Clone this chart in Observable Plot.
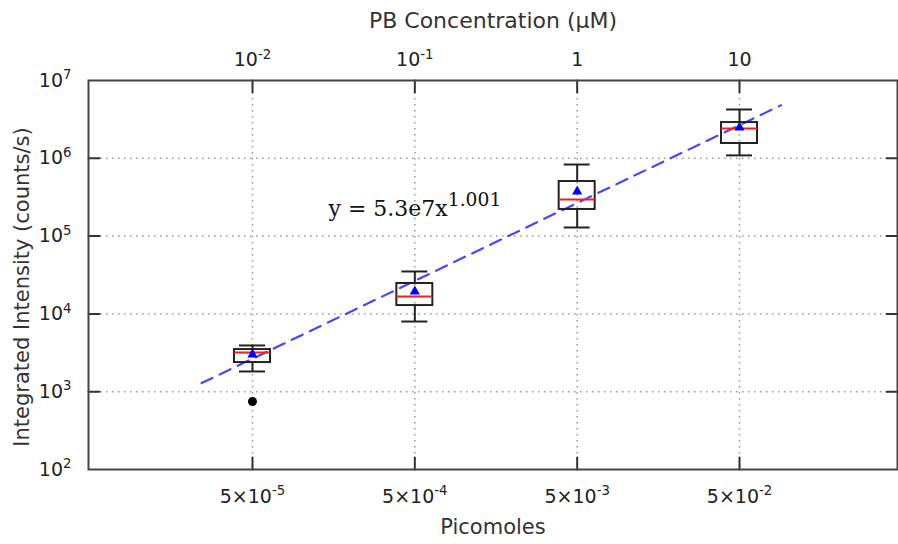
<!DOCTYPE html>
<html>
<head>
<meta charset="utf-8">
<script src="https://cdn.jsdelivr.net/npm/d3@7"></script>
<script src="https://cdn.jsdelivr.net/npm/@observablehq/plot@0.6"></script>
<style>
  html, body { margin: 0; padding: 0; background: #fff; }
  #chart svg { display: block; }
</style>
</head>
<body>
<div id="chart"></div>
<script>
// ---- data ----
const picomoles = [5e-5, 5e-4, 5e-3, 5e-2];
const bottomLabels = ["5×10^-5", "5×10^-4", "5×10^-3", "5×10^-2"];
const topLabels = ["10^-2", "10^-1", "1", "10"];
const whiskerLow = [1820, 7980, 129000, 1.09e6];
const q1 = [2370, 12800, 220000, 1.55e6];
const median = [3190, 16700, 295000, 2.41e6];
const q3 = [3480, 24600, 503000, 2.88e6];
const whiskerHigh = [3930, 35100, 832000, 4.24e6];
const meanValue = [3010, 19400, 374000, 2.49e6];
const outlierX = [5e-5];
const outlierY = [748];
const yTicks = [1e2, 1e3, 1e4, 1e5, 1e6, 1e7];
const yLabels = ["10^2", "10^3", "10^4", "10^5", "10^6", "10^7"];
const fitX = [2.43e-5, 0.09];
const fitY = [1290, 4.8e6];
const equation = "y = 5.3e7x^1.001";
const equationPos = {x: 1.47e-4, y: 2.25e5};
const xDomain = [4.885e-6, 0.47];
const yDomain = [1e2, 1e7];

const boxes = picomoles.map((x, i) => ({
  x, lo: whiskerLow[i], q1: q1[i], med: median[i], q3: q3[i], hi: whiskerHigh[i], mean: meanValue[i]
}));
const outliers = outlierX.map((x, i) => ({x, y: outlierY[i]}));
const fit = fitX.map((x, i) => ({x, y: fitY[i]}));
const xt = picomoles.map((x, i) => ({x, top: topLabels[i], bottom: bottomLabels[i]}));
const yt = yTicks.map((y, i) => ({y, label: yLabels[i]}));
const inner = yTicks.slice(1, -1);

const tickShape = {draw(ctx, l) { ctx.moveTo(0, 0); ctx.lineTo(0, -l); }};
const font = "DejaVu Sans";

const chart = Plot.plot({
  width: 898,
  height: 544,
  marginLeft: 88,
  marginRight: 1,
  marginTop: 80,
  marginBottom: 75,
  style: {fontFamily: font, background: "#fff", color: "#222"},
  x: {type: "log", domain: xDomain, axis: null},
  y: {type: "log", domain: yDomain, axis: null},
  marks: [
    Plot.gridX(picomoles, {stroke: "#999", strokeOpacity: 1, strokeWidth: 1.5, strokeDasharray: "1.5,4.5"}),
    Plot.gridY(inner, {stroke: "#999", strokeOpacity: 1, strokeWidth: 1.5, strokeDasharray: "1.5,4.5"}),
    // inward ticks
    Plot.vector(picomoles, {x: d => d, y: yDomain[0], length: 12, rotate: 0, anchor: "start", shape: tickShape, stroke: "#333", strokeWidth: 2}),
    Plot.vector(picomoles, {x: d => d, y: yDomain[1], length: 12, rotate: 180, anchor: "start", shape: tickShape, stroke: "#333", strokeWidth: 2}),
    Plot.vector(inner, {x: xDomain[0], y: d => d, length: 11, rotate: 90, anchor: "start", shape: tickShape, stroke: "#333", strokeWidth: 2}),
    Plot.vector(inner, {x: xDomain[1], y: d => d, length: 11, rotate: -90, anchor: "start", shape: tickShape, stroke: "#333", strokeWidth: 2}),
    // fit line
    Plot.line(fit, {x: "x", y: "y", stroke: "#4646ff", strokeWidth: 2.2, strokeDasharray: "12,8"}),
    // whiskers
    Plot.ruleX(boxes, {x: "x", y1: "lo", y2: "q1", stroke: "#222", strokeWidth: 2}),
    Plot.ruleX(boxes, {x: "x", y1: "q3", y2: "hi", stroke: "#222", strokeWidth: 2}),
    Plot.ruleY(boxes, {y: "lo", x1: "x", x2: "x", insetLeft: -13, insetRight: -13, stroke: "#222", strokeWidth: 2}),
    Plot.ruleY(boxes, {y: "hi", x1: "x", x2: "x", insetLeft: -13, insetRight: -13, stroke: "#222", strokeWidth: 2}),
    // boxes
    Plot.rect(boxes, {x1: "x", x2: "x", y1: "q1", y2: "q3", insetLeft: -18, insetRight: -18, fill: "none", stroke: "#222", strokeWidth: 2}),
    Plot.ruleY(boxes, {y: "med", x1: "x", x2: "x", insetLeft: -18, insetRight: -18, stroke: "#ff1a1a", strokeWidth: 2}),
    Plot.dot(boxes, {x: "x", y: "mean", symbol: "triangle", fill: "#0000ff", r: 3.8, stroke: null}),
    Plot.dot(outliers, {x: "x", y: "y", fill: "#000", r: 4.5, stroke: null}),
    Plot.frame({stroke: "#444", strokeWidth: 2}),
    // tick labels
    Plot.text(xt, {x: "x", frameAnchor: "bottom", dy: 33, text: "bottom", fontSize: 19, fill: "#222"}),
    Plot.text(xt, {x: "x", frameAnchor: "top", dy: -28, text: "top", fontSize: 19, fill: "#222"}),
    Plot.text(yt, {y: "y", frameAnchor: "left", dx: -17, textAnchor: "end", text: "label", fontSize: 19, fill: "#222"}),
    // axis titles
    Plot.text(["Picomoles"], {frameAnchor: "bottom", dy: 64, textAnchor: "middle", fontSize: 21, fill: "#333"}),
    Plot.text(["PB Concentration (µM)"], {frameAnchor: "top", dy: -68, textAnchor: "middle", fontSize: 22, fill: "#333"}),
    Plot.text(["Integrated Intensity (counts/s)"], {frameAnchor: "left", dx: -66, dy: 12, rotate: -90, textAnchor: "middle", fontSize: 21, fill: "#333"}),
    // equation
    Plot.text([equation], {x: equationPos.x, y: equationPos.y, textAnchor: "start", fontSize: 22, fontFamily: "DejaVu Serif", fill: "#111"})
  ]
});

// convert "base^sup" text into real superscripts
const ns = "http://www.w3.org/2000/svg";
chart.querySelectorAll("text").forEach(t => {
  const s = t.textContent;
  if (!s.includes("^")) return;
  const [base, sup] = s.split("^");
  while (t.firstChild) t.removeChild(t.firstChild);
  const a = document.createElementNS(ns, "tspan");
  a.textContent = base;
  const b = document.createElementNS(ns, "tspan");
  b.textContent = sup;
  const isEq = s === equation;
  b.setAttribute("font-size", isEq ? "85%" : "70%");
  b.setAttribute("dy", isEq ? "-0.5em" : "-0.55em");
  t.appendChild(a);
  t.appendChild(b);
});

document.getElementById("chart").appendChild(chart);
</script>
</body>
</html>
